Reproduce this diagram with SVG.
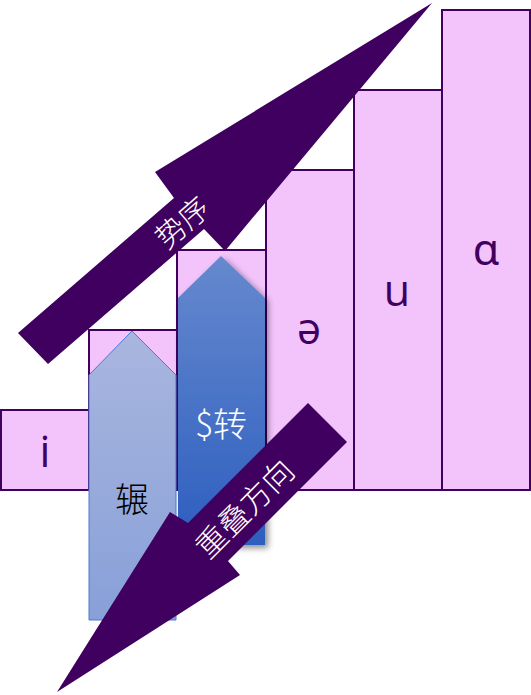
<svg xmlns="http://www.w3.org/2000/svg" width="531" height="695" viewBox="0 0 531 695">
<defs>
<linearGradient id="g1" x1="0" y1="0" x2="0" y2="1">
<stop offset="0" stop-color="#A9B6DF"/>
<stop offset="1" stop-color="#88A0D8"/>
</linearGradient>
<linearGradient id="g2" x1="0" y1="0" x2="0" y2="1">
<stop offset="0" stop-color="#6689CE"/>
<stop offset="1" stop-color="#2D5EBF"/>
</linearGradient>
<filter id="sh" x="-20%" y="-10%" width="150%" height="130%">
<feDropShadow dx="3" dy="3" stdDeviation="3" flood-color="#000" flood-opacity="0.45"/>
</filter>
</defs>
<style>
.bar{fill:#F3C3FC;stroke:#3F0060;stroke-width:2}
.lt{font-family:"Open Sans","Noto Sans",sans-serif;font-size:43px;fill:#3F0060;text-anchor:middle}
.cj{font-family:"Noto Sans CJK SC",sans-serif;font-weight:300;text-anchor:middle}
.big{fill:#3F0060}
</style>
<g id="bar-i"><rect class="bar" x="1" y="410" width="88" height="80"/><text class="lt" x="45" y="467">i</text></g>
<g id="bar-2"><rect class="bar" x="89" y="330" width="88" height="160"/></g>
<g id="bar-3"><rect class="bar" x="177" y="250" width="89" height="240"/></g>
<g id="bar-schwa"><rect class="bar" x="266" y="170" width="88" height="320"/><text class="lt" x="309" y="344">ə</text></g>
<g id="bar-u"><rect class="bar" x="354" y="90" width="88" height="400"/><text class="lt" x="397" y="306">u</text></g>
<g id="bar-a"><rect class="bar" x="442" y="10" width="88" height="480"/><text class="lt" x="486" y="265">ɑ</text></g>
<g id="arrow-nian"><polygon points="89,375 132,331 176,375 176,620 89,620" fill="url(#g1)" stroke="#4A7BD0" stroke-width="1"/><text class="cj" x="132" y="512" font-size="34" fill="#000">辗</text></g>
<g id="arrow-zhuan"><polygon points="178,298 221,256 265,298 265,545 178,545" fill="url(#g2)" filter="url(#sh)"/><text class="cj" x="221" y="437" font-size="34" fill="#fff">$转</text></g>
<g id="connectors">
<g id="arrow-shixu"><polygon class="big" points="18,333 174,198 155,172 432,3 225,251 204,229 48,364"/><text class="cj" x="181" y="221" font-size="30" fill="#fff" dominant-baseline="central" transform="rotate(-41 181 221)">势序</text></g>
<g id="arrow-chongdie"><polygon class="big" points="57,692 170,512 188,523 308,403 347,442 228,561 240,575"/><text class="cj" x="243" y="507" font-size="31" fill="#fff" dominant-baseline="central" transform="rotate(-45 243 507)">重叠方向</text></g>
</g>
</svg>
